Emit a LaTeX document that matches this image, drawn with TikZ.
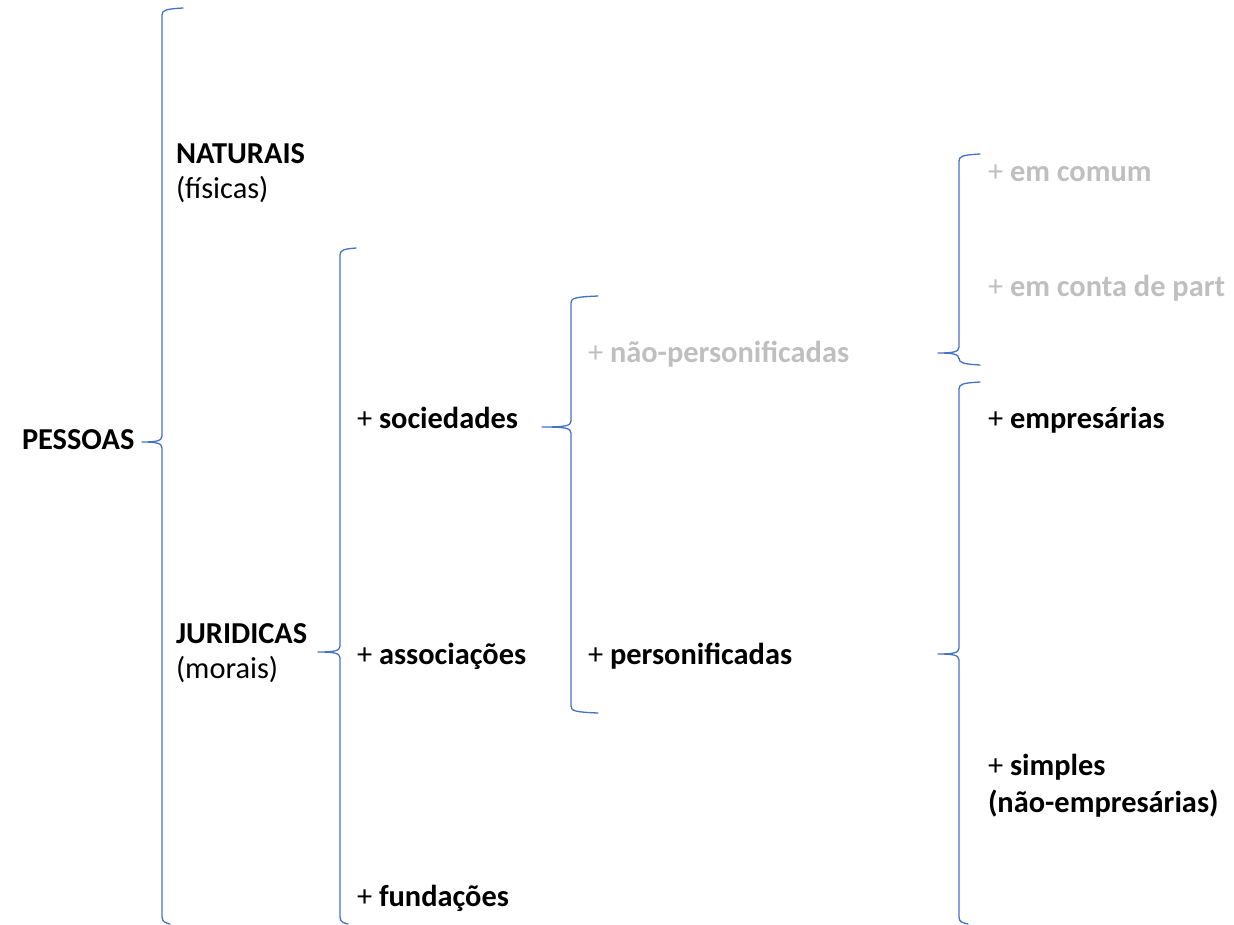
\documentclass[tikz,border=0pt]{standalone}
\usepackage{fontspec}
\setmainfont{Carlito}
\definecolor{bracecol}{RGB}{68,114,196}
\definecolor{lightgraytext}{RGB}{191,191,191}
\tikzset{
  bracepath/.style={draw=bracecol, line width=1.3pt, line cap=round, line join=round},
  lbl/.style={anchor=base west, inner sep=0pt, outer sep=0pt, font=\fontsize{30.4}{36}\selectfont},
  dimlbl/.style={lbl, text=lightgraytext},
}
% \bracedraw{xv}{ytop}{ybot}{ytip}{xtip}{xarmtop}{xarmbot}
\newcommand{\bracedraw}[7]{%
  \draw[bracepath] (#6,#2-4) .. controls (#1+4,#2-3) and (#1,#2-2) .. (#1,#2+3)
    -- (#1,#4-6) .. controls (#1,#4-1) and (#1-6,#4) .. (#5,#4)
    (#5,#4) .. controls (#1-6,#4) and (#1,#4+1) .. (#1,#4+6)
    -- (#1,#3-3) .. controls (#1,#3+2) and (#1+4,#3+3) .. (#7,#3+4);}
\begin{document}
\begin{tikzpicture}[x=1pt,y=-1pt]
\useasboundingbox (0,0) rectangle (1234,924);
\clip (0,0) rectangle (1234,924);
% braces
\bracedraw{162}{12}{920}{442}{142}{183}{170}
\bracedraw{340}{252}{920}{652}{318}{356}{348}
\bracedraw{571}{300}{709}{427}{542}{598}{598}
\bracedraw{959}{158}{361}{353}{938}{980}{980}
\bracedraw{959}{386}{920}{654}{938}{980}{968}
% labels
\node[lbl] (pessoas) at (22,449) {\bfseries PESSOAS};
\node[lbl] (naturais) at (176,163) {\bfseries NATURAIS};
\node[lbl] (fisicas) at (176,198) {(físicas)};
\node[lbl] (juridicas) at (176,643) {\bfseries JURIDICAS};
\node[lbl] (morais) at (176,678) {(morais)};
\node[lbl] (sociedades) at (357,428) {+ \textbf{sociedades}};
\node[lbl] (associacoes) at (357,664) {+ \textbf{associações}};
\node[lbl] (fundacoes) at (357,906) {+ \textbf{fundações}};
\node[dimlbl] (naopers) at (588,362) {+ \textbf{não-personificadas}};
\node[lbl] (pers) at (588,664) {+ \textbf{personificadas}};
\node[dimlbl] (comum) at (988,181) {+ \textbf{em comum}};
\node[dimlbl] (conta) at (988,296) {+ \textbf{em conta de part}};
\node[lbl] (empresarias) at (988,428) {+ \textbf{empresárias}};
\node[lbl] (simples) at (988,775) {+ \textbf{simples}};
\node[lbl] (naoemp) at (988,812) {\textbf{(não-empresárias)}};
\end{tikzpicture}
\end{document}
